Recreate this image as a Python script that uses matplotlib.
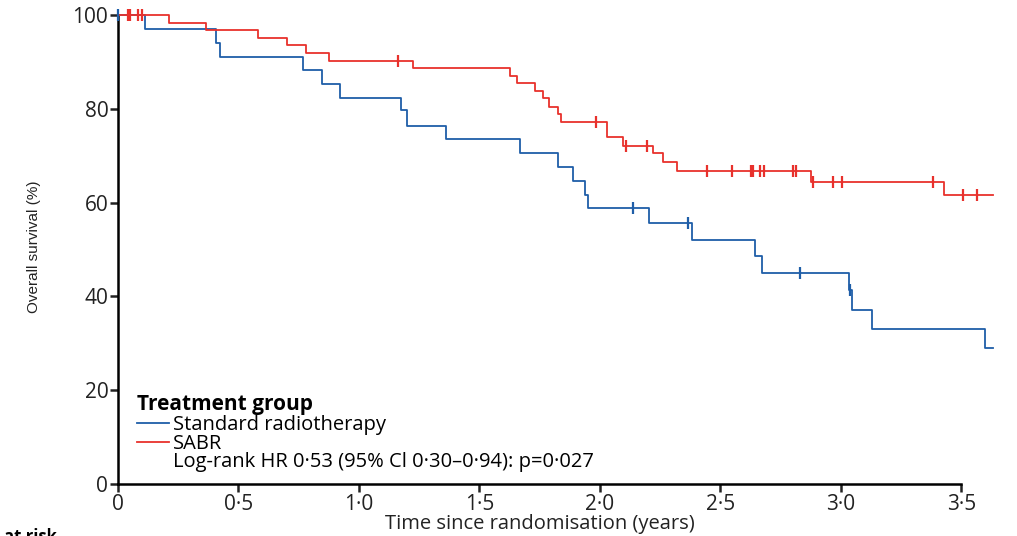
import matplotlib

matplotlib.use("Agg")

import matplotlib.pyplot as plt
from matplotlib.lines import Line2D
import numpy as np

plt.rcParams["font.family"] = ["Open Sans", "DejaVu Sans"]

BLUE = "#1f5ea8"
RED = "#e8312c"

# Kaplan-Meier steps (time in years, survival in %)
std_times = [0.0, 0.112, 0.407, 0.423, 0.768, 0.846, 0.921, 1.174, 1.199, 1.361,
             1.668, 1.826, 1.888, 1.94, 1.952, 2.203, 2.382, 2.643, 2.672, 3.033,
             3.046, 3.129, 3.598, 3.631]
std_surv = [100.0, 97.0, 94.0, 91.0, 88.2, 85.3, 82.3, 79.7, 76.3, 73.6,
            70.6, 67.6, 64.6, 61.6, 58.8, 55.6, 52.0, 48.6, 45.0, 41.4,
            37.1, 33.0, 29.0, 29.0]
std_censor = [0.0, 2.137, 2.365, 2.83, 3.037]

sabr_times = [0.0, 0.212, 0.365, 0.581, 0.70, 0.78, 0.876, 1.224, 1.627, 1.655,
              1.730, 1.763, 1.788, 1.826, 1.838, 2.029, 2.095, 2.22, 2.261, 2.32,
              2.876, 3.427, 3.631]
sabr_surv = [100.0, 98.4, 96.8, 95.2, 93.6, 91.9, 90.2, 88.7, 87.0, 85.5,
             83.8, 82.3, 80.4, 78.9, 77.2, 74.0, 72.1, 70.6, 68.7, 66.8,
             64.4, 61.6, 61.6]
sabr_censor = [0.04, 0.05, 0.085, 0.10, 1.162, 1.983, 2.108, 2.195, 2.444, 2.548,
               2.627, 2.635, 2.664, 2.68, 2.80, 2.813, 2.884, 2.967, 3.004, 3.382,
               3.506, 3.564]

x_ticks = [0, 0.5, 1.0, 1.5, 2.0, 2.5, 3.0, 3.5]
x_tick_labels = ["0", "0·5", "1·0", "1·5", "2·0", "2·5", "3·0", "3·5"]
y_ticks = [0, 20, 40, 60, 80, 100]


def surv_at(times, surv, t):
    idx = np.searchsorted(times, t, side="right") - 1
    return np.asarray(surv)[np.clip(idx, 0, len(surv) - 1)]


fig = plt.figure(figsize=(10.17, 5.36), dpi=100)
ax = fig.add_axes([118 / 1017, 52 / 536, 877 / 1017, 469 / 536])

for times, surv, cens, color in [(std_times, std_surv, std_censor, BLUE),
                                 (sabr_times, sabr_surv, sabr_censor, RED)]:
    ax.step(times, surv, where="post", color=color, lw=1.3, clip_on=False, zorder=3)
    ax.plot(cens, surv_at(times, surv, cens), ls="none", marker="|", ms=8,
            mew=1.6, color=color, clip_on=False, zorder=4)

ax.set_xlim(0, 3.64)
ax.set_ylim(0, 100)
ax.set_xticks(x_ticks)
ax.set_xticklabels(x_tick_labels)
ax.set_yticks(y_ticks)
ax.spines["top"].set_visible(False)
ax.spines["right"].set_visible(False)
ax.spines["bottom"].set_bounds(0, 3.5)
for side in ("left", "bottom"):
    ax.spines[side].set_linewidth(1.8)
ax.tick_params(length=6, width=1.8, labelsize=15, pad=1, colors="#222222")

ax.set_xlabel("Time since randomisation (years)", fontsize=14.5, color="#222222")
ax.xaxis.set_label_coords(0.481, -0.064)
ax.set_ylabel("Overall survival (%)", fontsize=11, color="#222222",
              family=["Liberation Sans", "DejaVu Sans"])
ax.yaxis.set_label_coords(-0.088, 0.505)

handles = [Line2D([], [], color=BLUE, lw=1.3), Line2D([], [], color=RED, lw=1.3),
           Line2D([], [], color="none")]
labels = ["Standard radiotherapy", "SABR", "Log-rank HR 0·53 (95% Cl 0·30–0·94): p=0·027"]
leg = ax.legend(handles, labels, title="Treatment group", loc="lower left",
                bbox_to_anchor=(0.012, 0.008), frameon=False, fontsize=14.5,
                handlelength=1.6, handletextpad=0.2, labelspacing=-0.08, borderaxespad=0)
leg.get_title().set_fontweight("bold")
leg.get_title().set_fontsize(15)
leg._legend_box.align = "left"
leg._legend_box.sep = 0

# the reference crops this caption at the left/bottom edge
fig.text(57 / 1017, 8 / 536, "Number at risk", ha="right", va="top",
         fontsize=12, fontweight="bold")

fig.savefig("out.png", dpi=100)
